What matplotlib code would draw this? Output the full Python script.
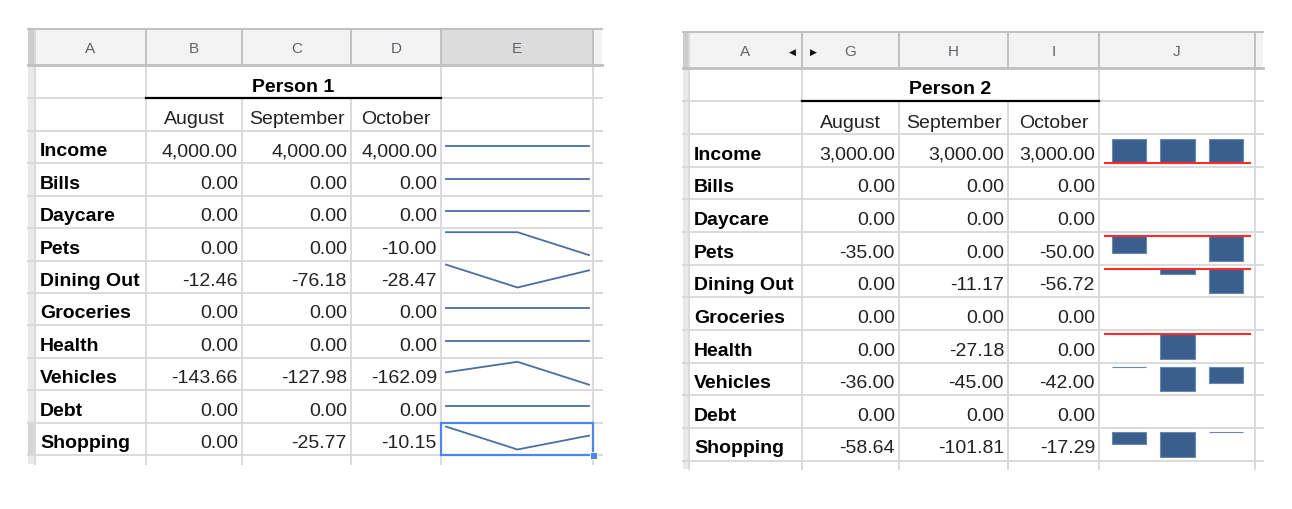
import matplotlib
matplotlib.use("Agg")
import matplotlib.pyplot as plt
from matplotlib.patches import Rectangle

# spreadsheet content
categories = ['Income', 'Bills', 'Daycare', 'Pets', 'Dining Out', 'Groceries',
              'Health', 'Vehicles', 'Debt', 'Shopping']
months = ['August', 'September', 'October']

p1_august = [4000.00, 0.00, 0.00, 0.00, -12.46, 0.00, 0.00, -143.66, 0.00, 0.00]
p1_september = [4000.00, 0.00, 0.00, 0.00, -76.18, 0.00, 0.00, -127.98, 0.00, -25.77]
p1_october = [4000.00, 0.00, 0.00, -10.00, -28.47, 0.00, 0.00, -162.09, 0.00, -10.15]

p2_august = [3000.00, 0.00, 0.00, -35.00, 0.00, 0.00, 0.00, -36.00, 0.00, -58.64]
p2_september = [3000.00, 0.00, 0.00, 0.00, -11.17, 0.00, -27.18, -45.00, 0.00, -101.81]
p2_october = [3000.00, 0.00, 0.00, -50.00, -56.72, 0.00, 0.00, -42.00, 0.00, -17.29]

left_letters = ['A', 'B', 'C', 'D', 'E']
right_letters = ['A', 'G', 'H', 'I', 'J']

W, H = 1292, 510
FONT = 'Liberation Sans'
FS = 14
GRID = '#dadada'
HEAD_GRID = '#c0c0c0'
LINE_COL = '#4a6ea2'
BAR_COL = '#3a5f8f'
AXIS_RED = '#ff2b2b'

fig = plt.figure(figsize=(W / 100, H / 100), dpi=100)
ax = fig.add_axes([0, 0, 1, 1])
ax.set_xlim(0, W)
ax.set_ylim(H, 0)
ax.axis('off')


def inset(x0, y0, x1, y1):
    a = fig.add_axes([x0 / W, 1 - y1 / H, (x1 - x0) / W, (y1 - y0) / H])
    a.axis('off')
    a.patch.set_alpha(0)
    return a


def line_spark(a, vals):
    lo, hi = min(vals), max(vals)
    if lo == hi:
        lo, hi = lo - 1, hi + 1
    a.plot(range(len(vals)), vals, color=LINE_COL, lw=1.3, clip_on=False,
           solid_joinstyle='miter')
    a.set_xlim(0, len(vals) - 1)
    a.set_ylim(lo, hi)


def bar_spark(a, vals):
    a.set_xlim(-0.5, len(vals) - 0.5)
    if all(v == 0 for v in vals):
        return
    lo, hi = min(vals), max(vals)
    if lo == hi:
        lo, hi = min(0, lo), max(0, hi)
    base = min(max(0, lo), hi)
    a.bar(range(len(vals)), [v - base for v in vals], bottom=base, width=0.71,
          color=BAR_COL, edgecolor='#6a87b0', linewidth=0.8, clip_on=False)
    a.set_ylim(lo, hi)
    if lo <= 0 <= hi:
        a.axhline(0, color=AXIS_RED, lw=1.5, clip_on=False, zorder=5)


def draw_sheet(cols, strip_x0, top, head_bot, title_bot, month_bot, pitch,
               bottom, letters, title, aug, sep, octo, kind,
               selected=False, arrows=False):
    x_left, x_right = cols[0], cols[-1]
    rows = [month_bot + i * pitch for i in range(len(categories) + 1)]

    # header band and left strip
    ax.add_patch(Rectangle((x_left, top), x_right - x_left, head_bot - top,
                           fc='#f3f3f3', ec='none'))
    if selected:
        ax.add_patch(Rectangle((cols[4], top), cols[5] - cols[4], head_bot - top,
                               fc='#dcdcdc', ec='none'))
    ax.add_patch(Rectangle((strip_x0, top), x_left - strip_x0, bottom - top,
                           fc='#e9e9e9', ec='none'))
    ax.add_patch(Rectangle((strip_x0, top), x_left - strip_x0, head_bot - top,
                           fc='#cdcdcd', ec='none'))
    if selected:
        ax.add_patch(Rectangle((strip_x0, rows[-2]), x_left - strip_x0, pitch,
                               fc='#d6d6d6', ec='none'))

    # grid lines
    for y in [title_bot, month_bot] + rows:
        ax.plot([strip_x0, x_right], [y, y], color=GRID, lw=1.4, zorder=1)
    for i, x in enumerate(cols[1:-1], start=1):
        y_start = title_bot if i in (2, 3) else head_bot
        ax.plot([x, x], [y_start, bottom], color=GRID, lw=1.4, zorder=1)
        ax.plot([x, x], [top, head_bot], color=HEAD_GRID, lw=1.4, zorder=2)
    ax.plot([strip_x0, x_right], [top, top], color=HEAD_GRID, lw=1.4, zorder=2)
    ax.plot([strip_x0, x_right], [head_bot, head_bot], color=HEAD_GRID, lw=2.0, zorder=2)
    ax.plot([x_left, x_left], [top, bottom], color=GRID, lw=1.4, zorder=1)

    # column letters
    for i, s in enumerate(letters):
        ax.text((cols[i] + cols[i + 1]) / 2, (top + head_bot) / 2 + 1, s,
                ha='center', va='center', fontsize=11, color='#5f6368', family=FONT)
    if arrows:
        ax.text(cols[1] - 10, (top + head_bot) / 2 + 1, '\u25c0', ha='center',
                va='center', fontsize=6.5, color='#111111', family='DejaVu Sans')
        ax.text(cols[1] + 11, (top + head_bot) / 2 + 1, '\u25b6', ha='center',
                va='center', fontsize=6.5, color='#111111', family='DejaVu Sans')

    # title and months
    ax.text((cols[1] + cols[4]) / 2, title_bot - 7.5, title, ha='center',
            va='baseline', fontsize=FS, fontweight='bold', family=FONT, color='black')
    ax.plot([cols[1], cols[4]], [title_bot, title_bot], color='black', lw=1.6, zorder=3)
    for k, m in enumerate(months):
        ax.text((cols[k + 1] + cols[k + 2]) / 2, month_bot - 7.5, m, ha='center',
                va='baseline', fontsize=FS, family=FONT, color='#222222')

    # data rows
    for r, cat in enumerate(categories):
        y0, y1 = rows[r], rows[r + 1]
        ax.text(x_left + 5, y1 - 8, cat, ha='left', va='baseline', fontsize=FS,
                fontweight='bold', family=FONT, color='black')
        vals = [aug[r], sep[r], octo[r]]
        for k, v in enumerate(vals):
            ax.text(cols[k + 2] - 4, y1 - 8, f'{v:,.2f}', ha='right',
                    va='baseline', fontsize=FS, family=FONT, color='#222222')
        if kind == 'line':
            line_spark(inset(cols[4] + 5, y0 + 4, cols[5] - 4, y1 - 5.5), vals)
        else:
            bar_spark(inset(cols[4] + 6, y0 + 4.5, cols[5] - 5, y1 - 4), vals)

    if selected:
        y0, y1 = rows[-2], rows[-1]
        ax.add_patch(Rectangle((cols[4], y0), cols[5] - cols[4], y1 - y0, fc='none',
                               ec='#4a86f0', lw=1.6, zorder=6))
        ax.add_patch(Rectangle((cols[5] - 3.5, y1 - 3.5), 7, 7, fc='#4a86f0',
                               ec='white', lw=0.7, zorder=7))


draw_sheet([35, 146, 242, 351, 441, 593, 602], 28, 30, 66, 99, 132, 32.4, 465,
           left_letters, 'Person 1', p1_august, p1_september, p1_october,
           'line', selected=True)
draw_sheet([689, 802, 899, 1008, 1099, 1255, 1263], 683, 33, 69, 102, 135, 32.65, 470,
           right_letters, 'Person 2', p2_august, p2_september, p2_october,
           'bar', arrows=True)

fig.savefig('out.png', dpi=100)
